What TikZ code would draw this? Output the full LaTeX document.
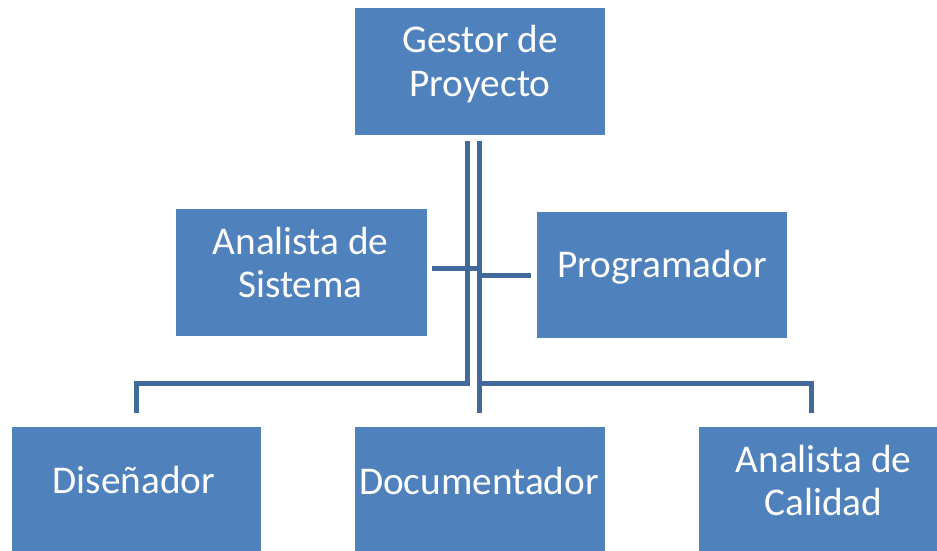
\documentclass[tikz,border=0pt]{standalone}
\usepackage{fontspec}
\setmainfont{Carlito}
\definecolor{boxblue}{HTML}{4F81BD}
\definecolor{lineblue}{HTML}{41699B}
\begin{document}
\begin{tikzpicture}[x=1pt,y=1pt,
  orgbox/.style={rectangle,fill=boxblue,draw=none,inner sep=0pt,minimum height=127pt},
  lbl/.style={text=white,anchor=base,inner sep=0pt,font=\fontsize{39.3}{43}\selectfont},
  conn/.style={draw=lineblue,line width=5pt}]
\useasboundingbox (0,0) rectangle (937,550);
\clip (0,0) rectangle (937,550);
% boxes
\node[orgbox,minimum width=250pt] (gestor) at (480,478.5) {};
\node[orgbox,minimum width=251pt] (asis) at (301.5,277.5) {};
\node[orgbox,minimum width=250pt,minimum height=126pt] (prog) at (662,275) {};
\node[orgbox,minimum width=249pt] (dis) at (136.5,59.5) {};
\node[orgbox,minimum width=250pt] (doc) at (480,59.5) {};
\node[orgbox,minimum width=249pt] (cal) at (823.5,59.5) {};
% texts
\node[lbl] (t1) at (480,497) {Gestor de};
\node[lbl] (t2) at (480,453) {Proyecto};
\node[lbl] (t3) at (300.5,296) {Analista de};
\node[lbl] (t4) at (300.5,253) {Sistema};
\node[lbl] (t5) at (662,273) {Programador};
\node[lbl] (t6) at (134,57) {Diseñador};
\node[lbl] (t7) at (479,56) {Documentador};
\node[lbl] (t8) at (823.5,78) {Analista de};
\node[lbl] (t9) at (823.5,35) {Calidad};
% connectors
\coordinate (gl) at ([xshift=-13pt,yshift=-6pt]gestor.south);
\coordinate (gr) at ([xshift=-1pt,yshift=-6pt]gestor.south);
\coordinate (disend) at ([xshift=-0.5pt,yshift=14pt]dis.north);
\coordinate (docend) at ([xshift=-1pt,yshift=14pt]doc.north);
\coordinate (calend) at ([xshift=-12.5pt,yshift=14pt]cal.north);
\coordinate (disbar) at ([yshift=29pt]disend);
\coordinate (docbar) at ([yshift=29pt]docend);
\coordinate (calbar) at ([yshift=29pt]calend);
\coordinate (asisend) at ([xshift=5pt,yshift=4.5pt]asis.east);
\coordinate (progend) at ([xshift=-6pt]prog.west);
\draw[conn] (gl) -- (gl |- disbar) -- (disbar) -- (disend);
\draw[conn] (gr) -- (docend);
\draw[conn] (docbar) -- (calbar) -- (calend);
\draw[conn] (asisend) -- (asisend -| gr);
\draw[conn] (progend -| gr) -- (progend);
\end{tikzpicture}
\end{document}
